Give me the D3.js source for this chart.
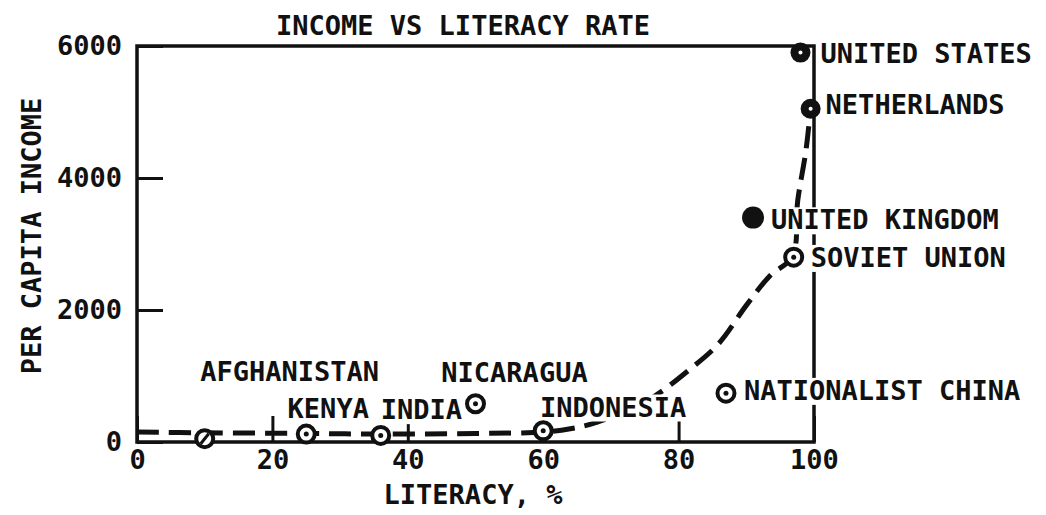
<!DOCTYPE html>
<html>
<head>
<meta charset="utf-8">
<script src="https://cdn.jsdelivr.net/npm/d3@7"></script>
<style>
  body { margin: 0; background: #fff; }
  text { font-family: "DejaVu Sans Mono", monospace; font-weight: bold; fill: #111; }
</style>
</head>
<body>
<svg id="chart"></svg>
<script>
const width = 1046;
const height = 515;

// data
const countries = ["AFGHANISTAN", "KENYA", "INDIA", "NICARAGUA", "INDONESIA",
  "NATIONALIST CHINA", "SOVIET UNION", "UNITED KINGDOM", "NETHERLANDS", "UNITED STATES"];
const literacy = [10, 25, 36, 50, 60, 87, 97, 91, 99.5, 98];
const income = [50, 120, 100, 580, 170, 740, 2800, 3400, 5050, 5900];
const markerType = ["slash", "ring", "ring", "ring", "ring", "ring", "ring", "solid", "solid", "solid"];

// hand drawn trend curve
const trendLiteracy = [0, 10, 25, 36, 50, 60, 64, 68, 75, 82, 86, 90, 93.5, 96.8, 97.6, 98.8, 99.5];
const trendIncome = [150, 140, 130, 120, 130, 150, 200, 300, 600, 1130, 1500, 2070, 2520, 2810, 3660, 4410, 5060];

const xTicks = [0, 20, 40, 60, 80, 100];
const yTicks = [0, 2000, 4000, 6000];

// label placement relative to each marker
const labelPos = {
  "AFGHANISTAN": { dx: 85, dy: -67, anchor: "middle" },
  "KENYA": { dx: 22, dy: -26, anchor: "middle" },
  "INDIA": { dx: 0, dy: -26, anchor: "start" },
  "NICARAGUA": { dx: 39, dy: -31, anchor: "middle" },
  "INDONESIA": { dx: 70, dy: -24, anchor: "middle" },
  "NATIONALIST CHINA": { dx: 18, dy: -3, anchor: "start" },
  "SOVIET UNION": { dx: 17, dy: 0, anchor: "start" },
  "UNITED KINGDOM": { dx: 18, dy: 2, anchor: "start" },
  "NETHERLANDS": { dx: 15, dy: -4, anchor: "start" },
  "UNITED STATES": { dx: 20, dy: 1, anchor: "start" }
};

const svg = d3.select("#chart")
  .attr("width", width)
  .attr("height", height);

const x = d3.scaleLinear().domain([0, 100]).range([137, 814]);
const y = d3.scaleLinear().domain([0, 6000]).range([442, 46]);

const fontSize = 27;

// title
svg.append("text")
  .attr("x", 463)
  .attr("y", 35)
  .attr("text-anchor", "middle")
  .attr("font-size", fontSize)
  .text("INCOME VS LITERACY RATE");

// frame
svg.append("rect")
  .attr("x", x(0))
  .attr("y", y(6000))
  .attr("width", x(100) - x(0))
  .attr("height", y(0) - y(6000))
  .attr("fill", "none")
  .attr("stroke", "#111")
  .attr("stroke-width", 3.5);

// axes
const xAxis = svg.append("g")
  .attr("transform", `translate(0,${y(0)})`)
  .call(d3.axisBottom(x).tickValues(xTicks).tickFormat(d3.format("d"))
    .tickSizeInner(-26).tickSizeOuter(0).tickPadding(8));
xAxis.select(".domain").remove();
xAxis.selectAll("line").attr("stroke", "#111").attr("stroke-width", 3);
xAxis.selectAll("text")
  .attr("font-family", "DejaVu Sans Mono")
  .attr("font-size", fontSize)
  .attr("fill", "#111");

const yAxis = svg.append("g")
  .attr("transform", `translate(${x(0)},0)`)
  .call(d3.axisLeft(y).tickValues(yTicks).tickFormat(d3.format("d"))
    .tickSizeInner(-26).tickSizeOuter(0).tickPadding(15));
yAxis.select(".domain").remove();
yAxis.selectAll("line").attr("stroke", "#111").attr("stroke-width", 3);
yAxis.selectAll("text")
  .attr("font-family", "DejaVu Sans Mono")
  .attr("font-size", fontSize)
  .attr("fill", "#111");

// axis titles
svg.append("text")
  .attr("transform", "translate(31,236) rotate(-90)")
  .attr("text-anchor", "middle")
  .attr("dy", "0.36em")
  .attr("font-size", fontSize)
  .text("PER CAPITA INCOME");

svg.append("text")
  .attr("x", 473)
  .attr("y", 494)
  .attr("dy", "0.36em")
  .attr("text-anchor", "middle")
  .attr("font-size", fontSize)
  .text("LITERACY, %");

// trend curve
const trend = trendLiteracy.map((l, i) => [l, trendIncome[i]]);
svg.append("path")
  .datum(trend)
  .attr("fill", "none")
  .attr("stroke", "#111")
  .attr("stroke-width", 5)
  .attr("stroke-dasharray", "22,10")
  .attr("d", d3.line()
    .x(d => x(d[0]))
    .y(d => y(d[1]))
    .curve(d3.curveCatmullRom.alpha(0.5)));

const points = countries.map((c, i) => ({
  name: c, lit: literacy[i], inc: income[i], type: markerType[i]
}));

// labels with white backing (breaks the frame like the original)
const labels = svg.append("g");
const labelText = labels.selectAll("text")
  .data(points)
  .enter().append("text")
  .attr("x", d => x(d.lit) + labelPos[d.name].dx)
  .attr("y", d => y(d.inc) + labelPos[d.name].dy)
  .attr("dy", "0.36em")
  .attr("text-anchor", d => labelPos[d.name].anchor)
  .attr("font-size", fontSize)
  .text(d => d.name);

labelText.each(function () {
  const b = this.getBBox();
  labels.insert("rect", "text")
    .attr("x", b.x - 2)
    .attr("y", b.y + 3)
    .attr("width", b.width + 4)
    .attr("height", b.height - 4)
    .attr("fill", "#fff");
});

// markers
const marks = svg.append("g").selectAll("g")
  .data(points)
  .enter().append("g")
  .attr("transform", d => `translate(${x(d.lit)},${y(d.inc)})`);

marks.filter(d => d.type !== "solid")
  .append("circle")
  .attr("r", 8.5)
  .attr("fill", "#fff")
  .attr("stroke", "#111")
  .attr("stroke-width", 4);

marks.filter(d => d.type === "ring")
  .append("circle")
  .attr("r", 2.5)
  .attr("fill", "#111");

marks.filter(d => d.type === "slash")
  .append("line")
  .attr("x1", -4).attr("y1", 5)
  .attr("x2", 4).attr("y2", -5)
  .attr("stroke", "#111")
  .attr("stroke-width", 3);

marks.filter(d => d.type === "solid")
  .append("circle")
  .attr("r", d => d.name === "UNITED KINGDOM" ? 11 : 10)
  .attr("fill", "#111");

marks.filter(d => d.type === "solid" && d.name !== "UNITED KINGDOM")
  .append("circle")
  .attr("r", 2)
  .attr("fill", "#fff");
</script>
</body>
</html>
